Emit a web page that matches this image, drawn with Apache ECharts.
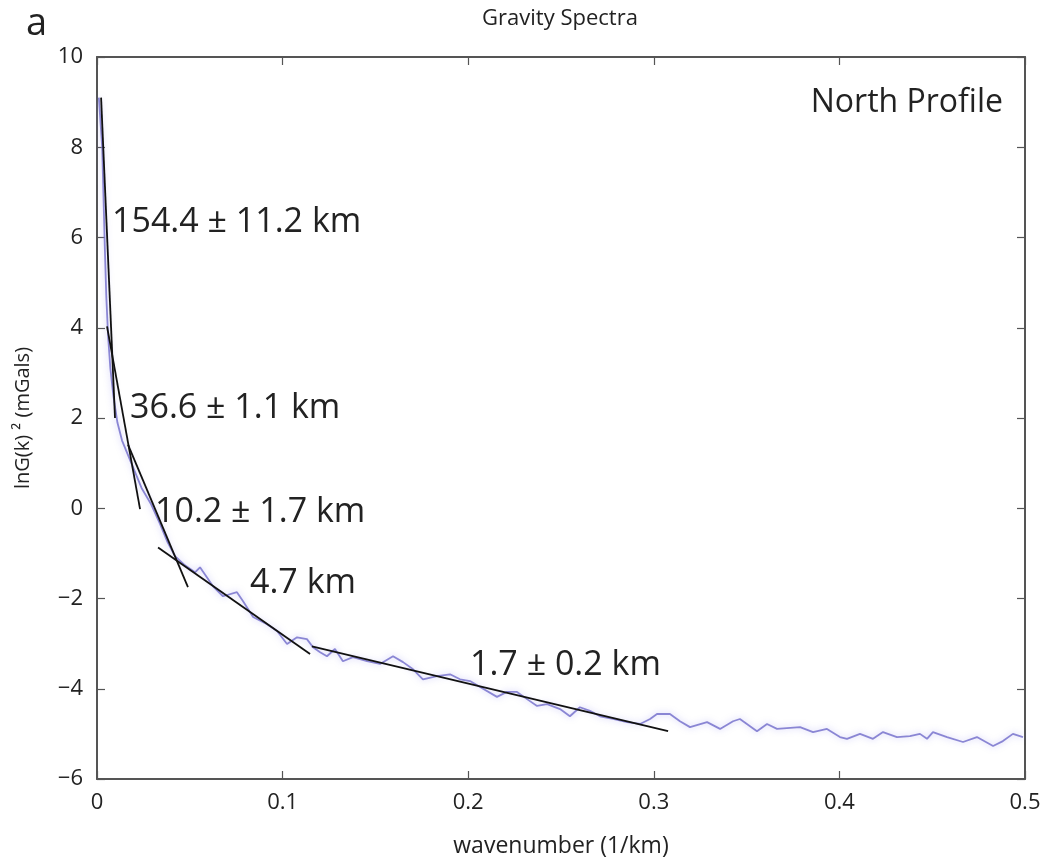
<!DOCTYPE html>
<html>
<head>
<meta charset="utf-8">
<script src="https://cdn.jsdelivr.net/npm/echarts@6/dist/echarts.min.js"></script>
<style>html,body{margin:0;padding:0;background:#fff}#c{width:1050px;height:863px}</style>
</head>
<body>
<div id="c"></div>
<script>
// ---- data ----
const specX = [0.0010,0.0028,0.0035,0.0042,0.0050,0.0060,0.0072,0.0088,0.0110,0.0135,0.0165,0.0200,0.0240,0.0290,0.0340,0.0380,0.0420,0.0470,0.0528,0.0555,0.0625,0.0679,0.0754,0.0787,0.0841,0.0916,0.0970,0.1024,0.1078,0.1131,0.1164,0.1202,0.1239,0.1282,0.1325,0.1379,0.1455,0.1525,0.1595,0.1649,0.1703,0.1756,0.1832,0.1902,0.1956,0.2010,0.2064,0.2155,0.2209,0.2263,0.2317,0.2371,0.2425,0.2495,0.2548,0.2602,0.2656,0.2710,0.2780,0.2856,0.2926,0.2980,0.3017,0.3087,0.3141,0.3195,0.3287,0.3357,0.3427,0.3464,0.3556,0.3610,0.3664,0.3788,0.3858,0.3933,0.4003,0.4041,0.4111,0.4181,0.4235,0.4310,0.4380,0.4434,0.4472,0.4504,0.4580,0.4666,0.4741,0.4828,0.4881,0.4935,0.4989];
const specY = [9.1,8.0,6.9,5.8,4.7,3.8,3.1,2.5,1.9,1.5,1.2,0.85,0.45,0.10,-0.35,-0.75,-1.06,-1.25,-1.42,-1.31,-1.73,-1.95,-1.86,-2.06,-2.41,-2.57,-2.72,-3.01,-2.86,-2.90,-3.08,-3.19,-3.28,-3.12,-3.39,-3.30,-3.39,-3.45,-3.28,-3.41,-3.57,-3.79,-3.72,-3.68,-3.79,-3.83,-3.96,-4.18,-4.07,-4.07,-4.23,-4.38,-4.34,-4.45,-4.61,-4.41,-4.49,-4.61,-4.67,-4.74,-4.78,-4.67,-4.56,-4.56,-4.72,-4.85,-4.74,-4.89,-4.72,-4.67,-4.94,-4.78,-4.89,-4.85,-4.96,-4.89,-5.07,-5.11,-5.00,-5.11,-4.96,-5.07,-5.05,-5.00,-5.11,-4.96,-5.07,-5.18,-5.07,-5.27,-5.16,-5.00,-5.07];
// fitted segments: [x0, y0, x1, y1]
const fitA = [0.0022, 9.1, 0.0097, 2.0];
const fitB = [0.0054, 4.03, 0.0232, -0.02];
const fitC = [0.0167, 1.41, 0.0490, -1.75];
const fitD = [0.0329, -0.87, 0.1148, -3.23];
const fitE = [0.1158, -3.06, 0.3077, -4.94];
const fitLabels = ['154.4 \u00b1 11.2 km', '36.6 \u00b1 1.1 km', '10.2 \u00b1 1.7 km', '4.7 km', '1.7 \u00b1 0.2 km'];
const xTicks = [0, 0.1, 0.2, 0.3, 0.4, 0.5];
const yTicks = [-6, -4, -2, 0, 2, 4, 6, 8, 10];

const FONT = '"Open Sans", "Noto Sans", sans-serif';
const TXT = '#222';
const spec = specX.map((x, i) => [x, specY[i]]);
const seg = s => [[s[0], s[1]], [s[2], s[3]]];
const fitSeries = [fitA, fitB, fitC, fitD, fitE].map(s => ({
  type: 'line', data: seg(s), showSymbol: false, silent: true,
  lineStyle: { color: '#111', width: 1.8 }, z: 5
}));

const axisCommon = {
  type: 'value',
  axisLine: { show: true, onZero: false, lineStyle: { color: '#555', width: 2 } },
  axisTick: { show: true, inside: true, length: 8, lineStyle: { color: '#555', width: 1.2 } },
  splitLine: { show: false }
};
const fmt = v => String(v).replace('-', '\u2212');

const chart = echarts.init(document.getElementById('c'));
chart.setOption({
  animation: false,
  backgroundColor: '#fff',
  grid: { left: 97, right: 25, top: 57, bottom: 83 },
  xAxis: [
    Object.assign({}, axisCommon, {
      min: xTicks[0], max: xTicks[xTicks.length - 1], interval: 0.1, position: 'bottom',
      axisLabel: { color: TXT, fontSize: 22, fontFamily: FONT, margin: 13, formatter: fmt },
      name: 'wavenumber (1/km)', nameLocation: 'middle', nameGap: 56,
      nameTextStyle: { color: TXT, fontSize: 23, fontFamily: FONT }
    }),
    Object.assign({}, axisCommon, {
      min: xTicks[0], max: xTicks[xTicks.length - 1], interval: 0.1, position: 'top',
      axisLabel: { show: false }
    })
  ],
  yAxis: [
    Object.assign({}, axisCommon, {
      min: yTicks[0], max: yTicks[yTicks.length - 1], interval: 2, position: 'left',
      axisLabel: { color: TXT, fontSize: 22, fontFamily: FONT, margin: 14, formatter: fmt },
      name: 'lnG(k) \u00b2 (mGals)', nameLocation: 'middle', nameGap: 64, nameRotate: 90,
      nameTextStyle: { color: TXT, fontSize: 20, fontFamily: FONT }
    }),
    Object.assign({}, axisCommon, {
      min: yTicks[0], max: yTicks[yTicks.length - 1], interval: 2, position: 'right',
      axisLabel: { show: false }
    })
  ],
  title: {
    text: 'Gravity Spectra', left: 555, top: 3, textAlign: 'center',
    textStyle: { color: TXT, fontSize: 22, fontWeight: 'normal', fontFamily: FONT }
  },
  series: [{
    type: 'line', data: spec, showSymbol: false, silent: true, z: 3,
    lineStyle: { color: 'rgba(120,115,205,0.85)', width: 1.8, shadowBlur: 6, shadowColor: 'rgba(140,135,235,0.6)' }
  }].concat(fitSeries),
  graphic: [
    { type: 'text', x: 26, y: 24, style: { text: 'a', fontSize: 38, fontFamily: FONT, fill: TXT, verticalAlign: 'middle' } },
    { type: 'text', x: 1003, y: 103, style: { text: 'North Profile', fontSize: 32, fontFamily: FONT, fill: TXT, align: 'right', verticalAlign: 'middle' } },
    { type: 'text', x: 112, y: 222, style: { text: fitLabels[0], fontSize: 34, fontFamily: FONT, fill: TXT, verticalAlign: 'middle' } },
    { type: 'text', x: 130, y: 408, style: { text: fitLabels[1], fontSize: 34, fontFamily: FONT, fill: TXT, verticalAlign: 'middle' } },
    { type: 'text', x: 155, y: 512, style: { text: fitLabels[2], fontSize: 34, fontFamily: FONT, fill: TXT, verticalAlign: 'middle' } },
    { type: 'text', x: 250, y: 583, style: { text: fitLabels[3], fontSize: 34, fontFamily: FONT, fill: TXT, verticalAlign: 'middle' } },
    { type: 'text', x: 470, y: 665, style: { text: fitLabels[4], fontSize: 34, fontFamily: FONT, fill: TXT, verticalAlign: 'middle' } }
  ]
});
</script>
</body>
</html>
